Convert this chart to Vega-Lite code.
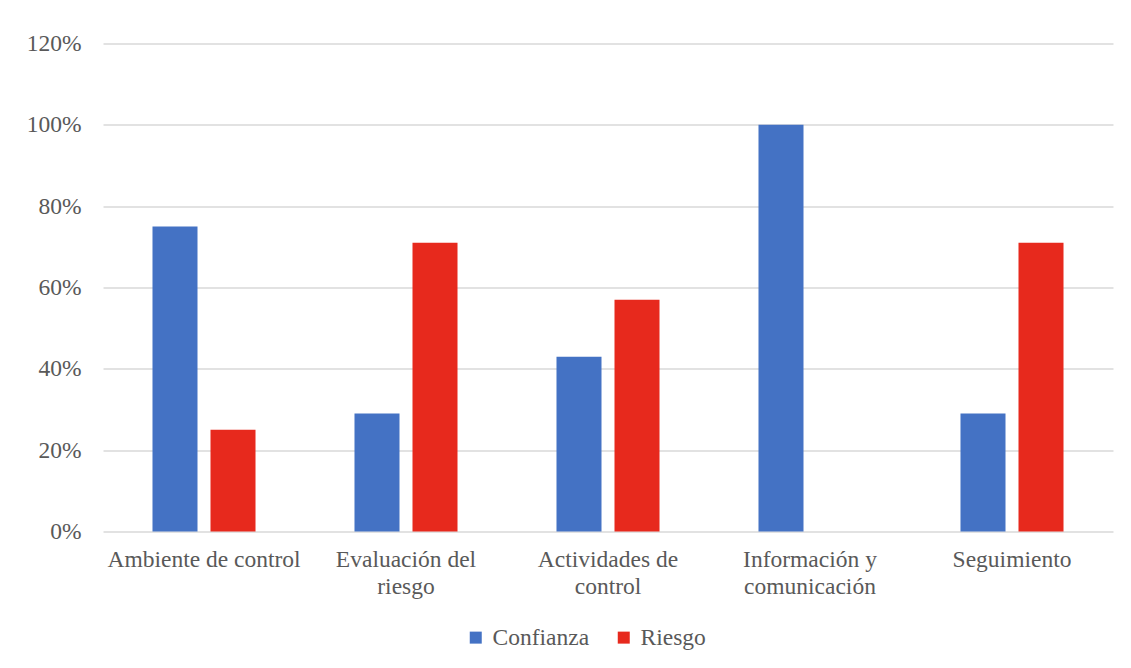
{
  "$schema": "https://vega.github.io/schema/vega-lite/v6.json",
  "width": 1010,
  "height": 488,
  "autosize": {"type": "none"},
  "padding": {"left": 103, "top": 43.5, "right": 18, "bottom": 136.5},
  "background": "white",
  "config": {
    "view": {"stroke": null},
    "font": "Liberation Serif",
    "axis": {"labelFont": "Liberation Serif", "labelColor": "#595959", "labelFontSize": 23.5, "labelLimit": 400},
    "legend": {"labelFont": "Liberation Serif", "labelColor": "#595959", "labelFontSize": 23.5, "labelLimit": 400}
  },
  "data": {
    "values": [
      {"componente": "Ambiente de control", "serie": "Confianza", "valor": 0.75},
      {"componente": "Ambiente de control", "serie": "Riesgo", "valor": 0.25},
      {"componente": "Evaluación del riesgo", "serie": "Confianza", "valor": 0.29},
      {"componente": "Evaluación del riesgo", "serie": "Riesgo", "valor": 0.71},
      {"componente": "Actividades de control", "serie": "Confianza", "valor": 0.43},
      {"componente": "Actividades de control", "serie": "Riesgo", "valor": 0.57},
      {"componente": "Información y comunicación", "serie": "Confianza", "valor": 1.0},
      {"componente": "Información y comunicación", "serie": "Riesgo", "valor": 0.0},
      {"componente": "Seguimiento", "serie": "Confianza", "valor": 0.29},
      {"componente": "Seguimiento", "serie": "Riesgo", "valor": 0.71}
    ]
  },
  "mark": {"type": "bar"},
  "encoding": {
    "x": {
      "field": "componente",
      "type": "nominal",
      "sort": null,
      "scale": {"paddingInner": 0.49, "paddingOuter": 0.245},
      "axis": {
        "title": null,
        "labelAngle": 0,
        "domain": false,
        "ticks": false,
        "labelPadding": 16,
        "labelLineHeight": 26.5,
        "labelFont": "Liberation Serif",
        "labelLimit": 400,
        "labelExpr": "datum.value == 'Evaluación del riesgo' ? ['Evaluación del', 'riesgo'] : datum.value == 'Actividades de control' ? ['Actividades de', 'control'] : datum.value == 'Información y comunicación' ? ['Información y', 'comunicación'] : datum.value"
      }
    },
    "xOffset": {
      "field": "serie",
      "type": "nominal",
      "scale": {"paddingInner": 0.224, "paddingOuter": 0}
    },
    "y": {
      "field": "valor",
      "type": "quantitative",
      "scale": {"domain": [0, 1.2], "nice": false},
      "axis": {
        "title": null,
        "values": [0, 0.2, 0.4, 0.6, 0.8, 1.0, 1.2],
        "format": ".0%",
        "domain": false,
        "ticks": false,
        "labelPadding": 22,
        "labelFont": "Liberation Serif",
        "gridColor": "#d9d9d9",
        "gridWidth": 1.3
      }
    },
    "color": {
      "field": "serie",
      "type": "nominal",
      "scale": {"domain": ["Confianza", "Riesgo"], "range": ["#4472C4", "#E7291D"]},
      "legend": {
        "title": null,
        "orient": "none",
        "direction": "horizontal",
        "legendX": 361,
        "legendY": 582,
        "symbolType": "square",
        "symbolSize": 144,
        "symbolStrokeWidth": 0,
        "labelOffset": 5,
        "columnPadding": 22,
        "labelFont": "Liberation Serif",
        "labelFontSize": 23.5,
        "labelColor": "#595959"
      }
    }
  }
}
